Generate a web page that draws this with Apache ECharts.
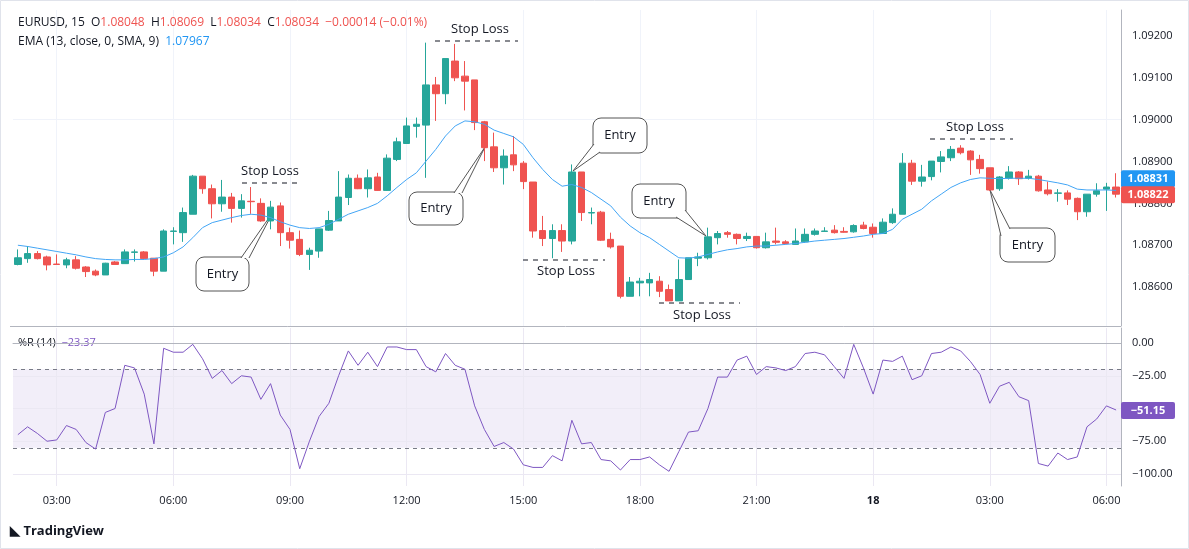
<!DOCTYPE html>
<html><head><meta charset="utf-8">
<script src="https://cdn.jsdelivr.net/npm/echarts@6/dist/echarts.min.js"></script>
<style>html,body{margin:0;padding:0;background:#fff}#c{width:1189px;height:549px}</style>
</head><body><div id="c"></div>
<script>
const opens=[1.08654,1.08668,1.08680,1.08672,1.08655,1.08653,1.08665,1.08648,1.08638,1.08629,
1.08660,1.08656,1.08683,1.08684,1.08669,1.08638,1.08733,1.08730,1.08774,1.08865,
1.08835,1.08799,1.08815,1.08788,1.08805,1.08800,1.08758,1.08794,1.08730,1.08714,
1.08678,1.08686,1.08736,1.08758,1.08814,1.08860,1.08835,1.08863,1.08831,1.08905,
1.08943,1.08984,1.08987,1.09083,1.09062,1.09140,1.09104,1.09095,1.08995,1.08935,
1.08885,1.08916,1.08896,1.08851,1.08735,1.08716,1.08735,1.08710,1.08875,1.08777,
1.08779,1.08714,1.08698,1.08578,1.08610,1.08610,1.08614,1.08594,1.08567,1.08618,
1.08669,1.08670,1.08718,1.08730,1.08726,1.08716,1.08721,1.08694,1.08710,1.08708,
1.08702,1.08708,1.08726,1.08733,1.08736,1.08733,1.08732,1.08748,1.08743,1.08728,
1.08754,1.08774,1.08896,1.08853,1.08864,1.08900,1.08909,1.08932,1.08925,1.08905,
1.08885,1.08835,1.08860,1.08875,1.08860,1.08865,1.08832,1.08824,1.08825,1.08812,1.08780,1.08822,1.08834,1.08839];
const highs=[1.08690,1.08698,1.08686,1.08675,1.08678,1.08670,1.08674,1.08650,1.08642,1.08658,
1.08662,1.08690,1.08690,1.08686,1.08669,1.08738,1.08743,1.08790,1.08868,1.08865,
1.08845,1.08856,1.08825,1.08822,1.08839,1.08812,1.08806,1.08802,1.08742,1.08735,
1.08694,1.08739,1.08782,1.08877,1.08869,1.08869,1.08881,1.08873,1.08917,1.08957,
1.09005,1.09005,1.09184,1.09102,1.09146,1.09181,1.09140,1.09095,1.08997,1.08969,
1.08929,1.08961,1.08901,1.08851,1.08770,1.08750,1.08750,1.08893,1.08875,1.08790,
1.08782,1.08730,1.08698,1.08624,1.08622,1.08634,1.08626,1.08606,1.08666,1.08670,
1.08682,1.08742,1.08734,1.08734,1.08728,1.08730,1.08721,1.08730,1.08742,1.08712,
1.08740,1.08740,1.08740,1.08743,1.08748,1.08743,1.08750,1.08756,1.08752,1.08764,
1.08788,1.08920,1.08904,1.08892,1.08901,1.08925,1.08937,1.08939,1.08927,1.08916,
1.08885,1.08865,1.08889,1.08877,1.08880,1.08868,1.08852,1.08834,1.08831,1.08814,1.08822,1.08848,1.08849,1.08872];
const lows=[1.08652,1.08658,1.08666,1.08640,1.08653,1.08645,1.08642,1.08624,1.08626,1.08629,
1.08653,1.08656,1.08661,1.08666,1.08626,1.08638,1.08702,1.08708,1.08774,1.08823,
1.08764,1.08780,1.08754,1.08766,1.08775,1.08756,1.08738,1.08698,1.08692,1.08674,
1.08641,1.08670,1.08734,1.08758,1.08796,1.08834,1.08814,1.08830,1.08830,1.08901,
1.08943,1.08957,1.08861,1.08997,1.09037,1.09092,1.09022,1.08975,1.08901,1.08875,
1.08845,1.08877,1.08834,1.08718,1.08698,1.08669,1.08684,1.08702,1.08758,1.08750,
1.08710,1.08692,1.08573,1.08578,1.08578,1.08578,1.08576,1.08567,1.08567,1.08618,
1.08650,1.08666,1.08702,1.08718,1.08702,1.08710,1.08692,1.08692,1.08702,1.08702,
1.08702,1.08706,1.08723,1.08732,1.08728,1.08730,1.08730,1.08738,1.08718,1.08728,
1.08751,1.08774,1.08844,1.08840,1.08855,1.08874,1.08901,1.08917,1.08868,1.08871,
1.08830,1.08830,1.08857,1.08844,1.08857,1.08828,1.08819,1.08804,1.08796,1.08760,1.08768,1.08816,1.08782,1.08814];
const closes=[1.08670,1.08680,1.08668,1.08653,1.08654,1.08665,1.08645,1.08637,1.08629,1.08657,
1.08654,1.08684,1.08684,1.08668,1.08638,1.08734,1.08734,1.08778,1.08865,1.08835,
1.08799,1.08815,1.08788,1.08806,1.08804,1.08758,1.08791,1.08730,1.08712,1.08678,
1.08688,1.08739,1.08759,1.08815,1.08860,1.08835,1.08861,1.08831,1.08908,1.08947,
1.08985,1.08989,1.09083,1.09062,1.09146,1.09100,1.09092,1.08993,1.08933,1.08885,
1.08913,1.08892,1.08852,1.08734,1.08716,1.08735,1.08710,1.08875,1.08778,1.08778,
1.08712,1.08696,1.08578,1.08612,1.08614,1.08618,1.08590,1.08567,1.08618,1.08670,
1.08672,1.08720,1.08728,1.08726,1.08716,1.08721,1.08694,1.08708,1.08707,1.08704,
1.08710,1.08726,1.08734,1.08734,1.08730,1.08731,1.08747,1.08740,1.08728,1.08755,
1.08774,1.08896,1.08853,1.08863,1.08901,1.08911,1.08929,1.08921,1.08904,1.08883,
1.08832,1.08863,1.08875,1.08859,1.08865,1.08830,1.08823,1.08825,1.08810,1.08780,1.08822,1.08830,1.08839,1.08822];
const emaValues=[1.08700,1.08697,1.08693,1.08689,1.08685,1.08681,1.08677,1.08672,1.08668,1.08666,
1.08665,1.08665,1.08666,1.08666,1.08668,1.08672,1.08682,1.08696,1.08718,1.08742,
1.08754,1.08760,1.08766,1.08771,1.08774,1.08772,1.08766,1.08756,1.08748,1.08742,
1.08740,1.08742,1.08750,1.08762,1.08774,1.08782,1.08790,1.08800,1.08818,1.08838,
1.08857,1.08873,1.08901,1.08929,1.08961,1.08985,1.08997,1.08995,1.08989,1.08975,
1.08967,1.08959,1.08941,1.08909,1.08881,1.08857,1.08841,1.08845,1.08838,1.08826,
1.08810,1.08794,1.08767,1.08746,1.08730,1.08718,1.08702,1.08686,1.08670,1.08669,
1.08672,1.08678,1.08684,1.08689,1.08692,1.08696,1.08698,1.08698,1.08700,1.08702,
1.08704,1.08707,1.08710,1.08712,1.08714,1.08716,1.08719,1.08722,1.08726,1.08728,
1.08738,1.08762,1.08774,1.08786,1.08806,1.08822,1.08838,1.08849,1.08857,1.08861,
1.08860,1.08859,1.08860,1.08860,1.08860,1.08857,1.08853,1.08849,1.08844,1.08834,1.08832,1.08832,1.08832,1.08831];
const wprValues=[-70,-64,-69,-75,-74,-63,-66,-76,-81,-53,
-50,-17,-19,-39,-77,-4,-7,-7,-1,-12,
-27,-21,-31,-25,-26,-43,-31,-55,-66,-96,
-75,-56,-46,-25,-6,-17,-7,-18,-3,-3,
-5,-5,-18,-22,-8,-17,-20,-48,-66,-79,
-76,-81,-93,-95,-95,-86,-90,-59,-77,-76,
-89,-90,-97,-89,-89,-87,-93,-98,-83,-68,
-67,-50,-26,-26,-13,-10,-24,-18,-19,-21,
-18,-8,-7,-9,-18,-27,-1,-19,-39,-13,
-14,-10,-28,-25,-8,-7,-3,-6,-14,-24,
-46,-33,-30,-41,-44,-92,-94,-84,-89,-87,-64,-58,-48,-51.15];
const tickLabels={4:'03:00',16:'06:00',28:'09:00',40:'12:00',52:'15:00',64:'18:00',76:'21:00',88:'18',100:'03:00',112:'06:00'};
const priceTicks=[1.086,1.087,1.088,1.089,1.090,1.091,1.092];
const wprTicks=[0,-25,-50,-75,-100];
const lastEma=1.08831, lastClose=1.08822, lastWpr=-51.15;

const categories=opens.map((_,i)=>String(i));
const candles=opens.map((o,i)=>[o,closes[i],lows[i],highs[i]]);
const tickIdx=Object.keys(tickLabels).map(Number);
const UP='#26a69a',DN='#ef5350',FONT='"Open Sans", "Noto Sans", sans-serif';

const chart=echarts.init(document.getElementById('c'),null,{renderer:'canvas'});
chart.setOption({
  animation:false,
  textStyle:{fontFamily:FONT},
  grid:[{left:13,width:1108,top:10,height:316},{left:13,width:1108,top:328,height:158}],
  xAxis:[
    {type:'category',gridIndex:0,data:categories,boundaryGap:true,axisLine:{show:false},axisTick:{show:false},axisLabel:{show:false},splitLine:{show:false}},
    {type:'category',gridIndex:1,data:categories,boundaryGap:true,axisLine:{show:true,lineStyle:{color:'#b2b5be'}},axisTick:{show:false},
     axisLabel:{interval:0,margin:9,fontSize:11,color:'#131722',formatter:(v,i)=>tickLabels[i]===undefined?'':(tickLabels[i]==='18'?'{b|18}':tickLabels[i]),rich:{b:{fontWeight:'bold',fontSize:11,color:'#131722'}}},splitLine:{show:false}}
  ],
  yAxis:[
    {type:'value',gridIndex:0,position:'right',min:1.08507,max:1.09262,axisLine:{show:true,lineStyle:{color:'#b2b5be'}},axisTick:{show:false},
     axisLabel:{customValues:priceTicks,formatter:v=>v.toFixed(5),fontSize:11,color:'#131722',margin:11},splitLine:{show:false}},
    {type:'value',gridIndex:1,position:'right',min:-109.2,max:11.5,axisLine:{show:true,lineStyle:{color:'#b2b5be'}},axisTick:{show:false},
     axisLabel:{customValues:wprTicks,formatter:v=>v.toFixed(2).replace('-','\u2212'),fontSize:11,color:'#131722',margin:11},splitLine:{show:false}}
  ],
  series:[
    {type:'line',z:0,zlevel:0,xAxisIndex:0,yAxisIndex:0,data:[],silent:true,
     markLine:{z:0,silent:true,symbol:'none',label:{show:false},lineStyle:{color:'#f0f3fa',type:'solid',width:1},data:priceTicks.map(p=>({yAxis:p})).concat(tickIdx.map(i=>({xAxis:i})))}},
    {type:'candlestick',z:3,xAxisIndex:0,yAxisIndex:0,data:candles,barWidth:7,
     itemStyle:{color:UP,color0:DN,borderColor:UP,borderColor0:DN,borderWidth:1}},
    {type:'line',z:4,xAxisIndex:0,yAxisIndex:0,data:emaValues,symbol:'none',smooth:false,lineStyle:{color:'#42a5f5',width:1}},
    {type:'line',z:0,xAxisIndex:1,yAxisIndex:1,data:[],silent:true,
     markArea:{z:0,silent:true,itemStyle:{color:'rgba(126,87,194,0.1)'},data:[[{yAxis:-20},{yAxis:-80}]]},
     markLine:{z:0,silent:true,symbol:'none',label:{show:false},lineStyle:{color:'#ebe8f3',type:'solid',width:1},data:wprTicks.map(p=>({yAxis:p})).concat(tickIdx.map(i=>({xAxis:i})))}},
    {type:'line',z:5,xAxisIndex:1,yAxisIndex:1,data:wprValues,symbol:'none',lineStyle:{color:'#7e57c2',width:1},
     markLine:{z:1,silent:true,symbol:'none',label:{show:false},lineStyle:{color:'#787b86',type:[4,4],width:1},data:[{yAxis:-20},{yAxis:-80}]}}
  ]
});

function pxY(axis,v){return chart.convertToPixel({yAxisIndex:axis},v);}
function tag(y,txt,bg){return {type:'group',z:100,children:[
  {type:'rect',z:100,shape:{x:1121,y:y-8,width:54,height:17,r:2},style:{fill:bg}},
  {type:'text',z:101,x:1148,y:y+0.5,style:{text:txt,fill:'#fff',fontSize:11,fontWeight:'bold',fontFamily:FONT,align:'center',verticalAlign:'middle'}}]};}
function stop(cx,ty,ly,x1,x2){return [
  {type:'text',x:cx,y:ty,style:{text:'Stop Loss',fill:'#131722',fontSize:13,fontFamily:FONT,align:'center',verticalAlign:'middle'}},
  {type:'line',shape:{x1:x1,y1:ly,x2:x2,y2:ly},style:{stroke:'#131722',lineWidth:1,lineDash:[5,5]}}];}
function entry(bx,by,bw,bh,p1,p2,tip){return [
  {type:'rect',shape:{x:bx,y:by,width:bw,height:bh,r:8},style:{fill:'#fff',stroke:'#555',lineWidth:1}},
  {type:'polygon',shape:{points:[p1,tip,p2]},style:{fill:'#fff',stroke:null}},
  {type:'polyline',shape:{points:[p1,tip,p2]},style:{stroke:'#555',lineWidth:1,fill:null}},
  {type:'text',x:bx+bw/2,y:by+bh/2,style:{text:'Entry',fill:'#131722',fontSize:13,fontFamily:FONT,align:'center',verticalAlign:'middle'}}];}
function richLine(x,y,parts,size){
  const out=[];let cx=x;
  const ctx=document.createElement('canvas').getContext('2d');ctx.font=size+'px '+FONT;
  parts.forEach(([t,c])=>{out.push({type:'text',x:cx,y:y,style:{text:t,fill:c,fontSize:size,fontFamily:FONT,verticalAlign:'middle'}});cx+=ctx.measureText(t).width;});
  return out;}
const g=[];
g.push({type:'rect',shape:{x:0.5,y:0.5,width:1188,height:548},style:{fill:null,stroke:'#e0e3eb'}});
g.push({type:'line',shape:{x1:10,y1:326.5,x2:1121,y2:326.5},style:{stroke:'#b2b5be',lineWidth:1}});
g.push(...stop(480,29,41,435,518),...stop(270,171,183,242,300),...stop(566,271,260,523,605),...stop(702,315,303,659,740),...stop(975,127,139,930,1013));
g.push(...entry(196,257,53,34,[241,258],[249,258],[273,212]));
g.push(...entry(409,192,54,33,[454,193],[462,193],[485,147]));
g.push(...entry(593,118,54,35,[594,144],[600,152],[573,171]));
g.push(...entry(632,184,54,34,[685,210],[676,217],[706,236]));
g.push(...entry(1000,228,55,34,[1001,236],[1010,229],[990,190]));
const yClose=pxY(0,lastClose);
g.push(tag(yClose-16,lastEma.toFixed(5),'#2196f3'));
g.push(tag(yClose,lastClose.toFixed(5),'#ef5350'));
g.push(tag(pxY(1,lastWpr),'\u2212'+Math.abs(lastWpr).toFixed(2),'#7e57c2'));
const K='#131722',R='#ef5350';
g.push(...richLine(18,23,[['EURUSD, 15  O',K],['1.08048',R],['  H',K],['1.08069',R],['  L',K],['1.08034',R],['  C',K],['1.08034  \u22120.00014 (\u22120.01%)',R]],12));
g.push(...richLine(18,42,[['EMA (13, close, 0, SMA, 9)  ',K],['1.07967','#2196f3']],12));
g.push(...richLine(18,343,[['%R (14)  ',K],['\u221223.37','#7e57c2']],11));
g.push({type:'text',x:10,y:531,style:{text:'\u25E3 TradingView',fill:'#131722',fontSize:13,fontWeight:'bold',fontFamily:FONT,verticalAlign:'middle'}});
chart.setOption({graphic:g});
</script></body></html>
